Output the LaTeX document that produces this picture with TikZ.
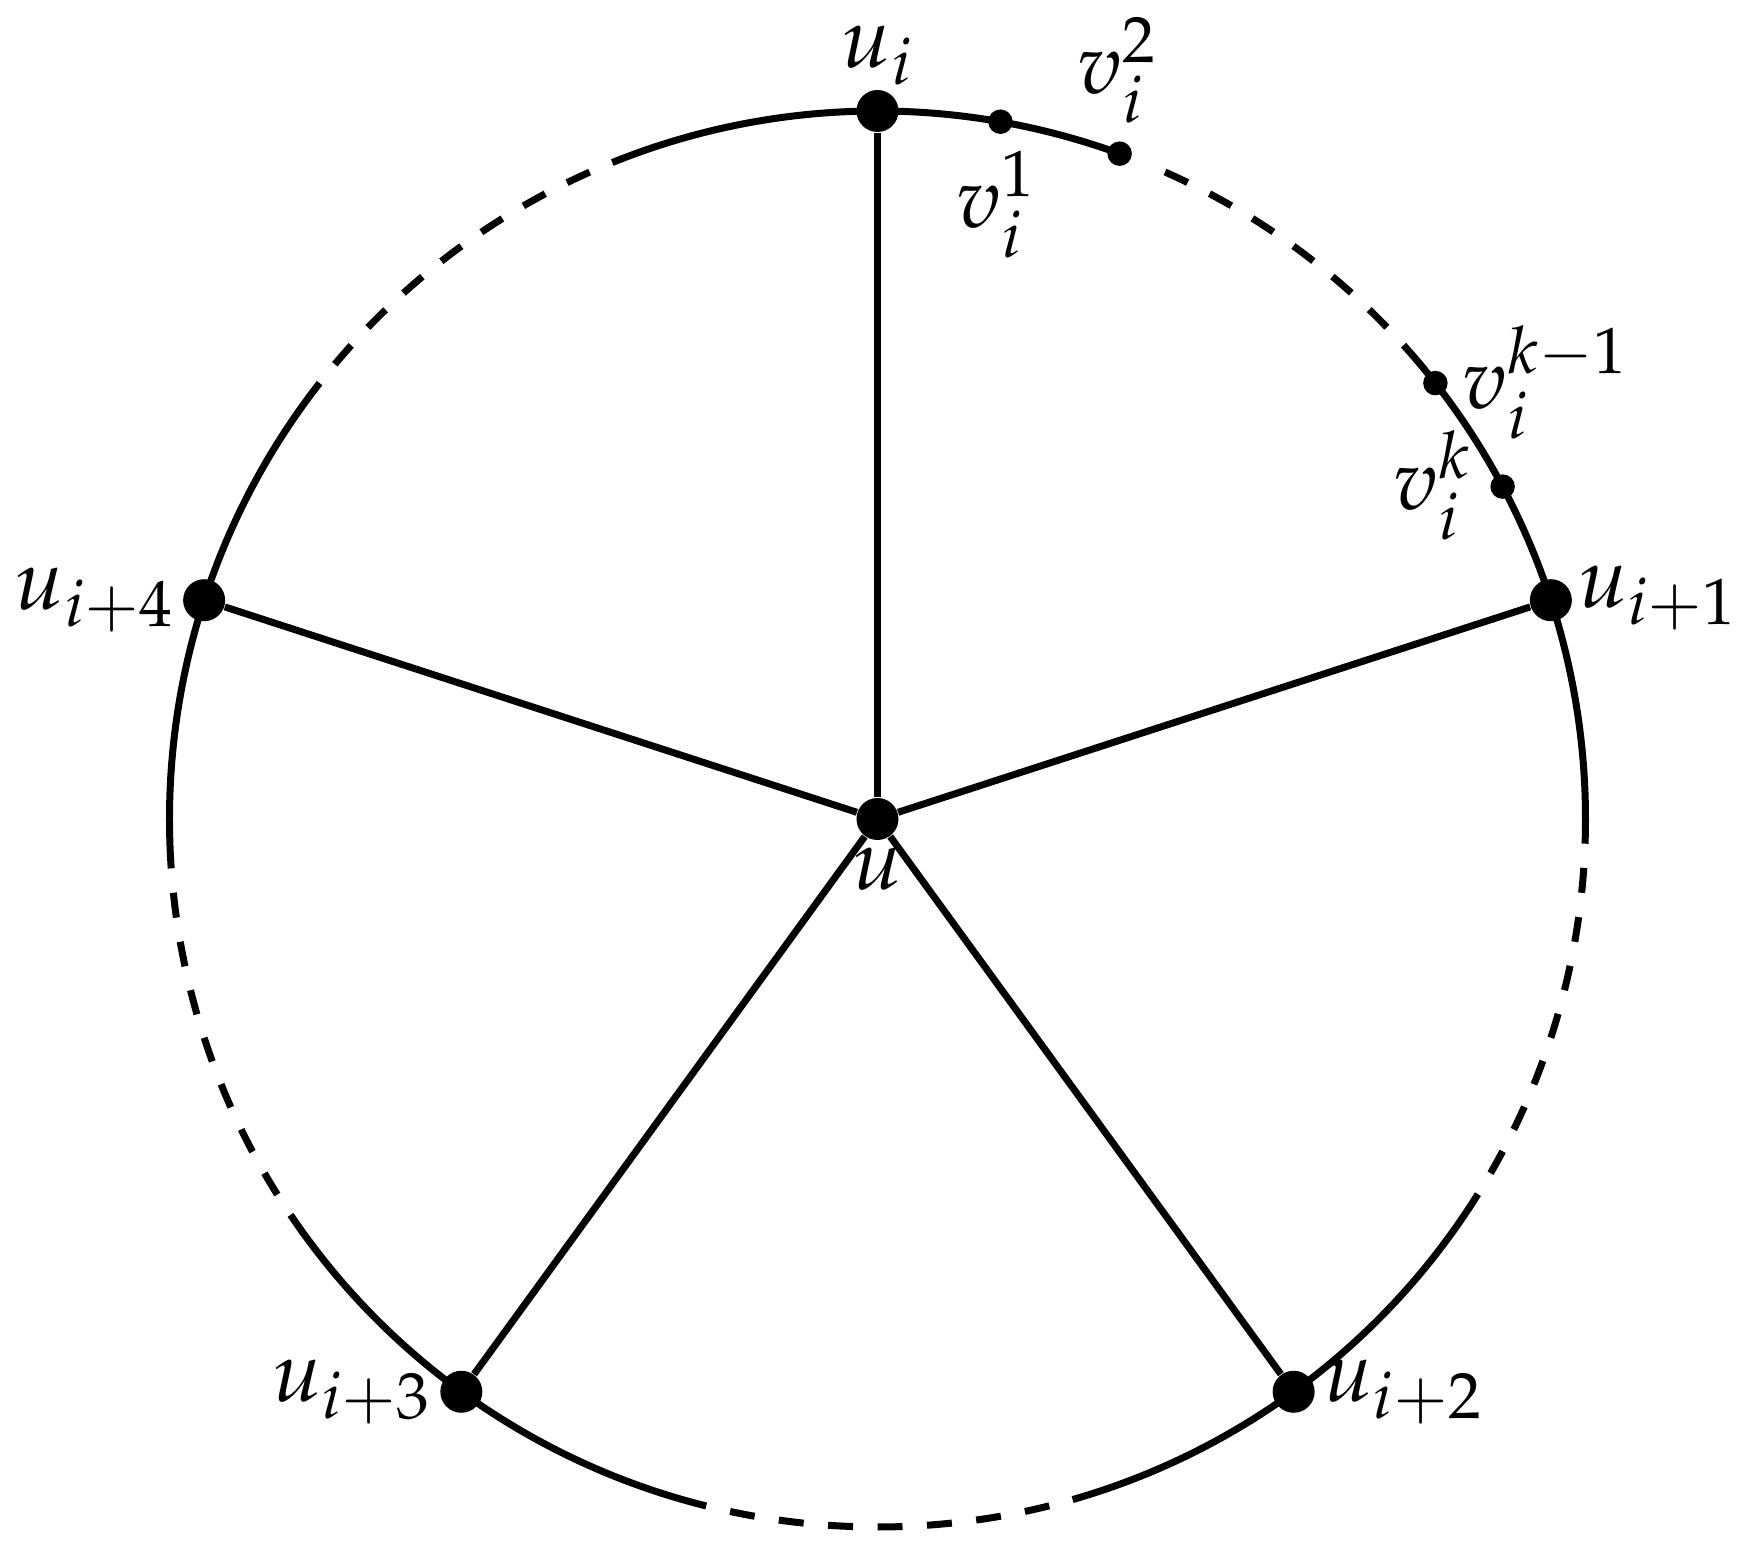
\documentclass[tikz,border=0pt]{standalone}
\usepackage{mathpazo}
\begin{document}
\begin{tikzpicture}[
  edge/.style={line width=0.07cm},
  dashedarc/.style={line width=0.07cm, dash pattern=on 0.25cm off 0.245cm, dash phase=0.25cm},
  bigdot/.style={circle, fill, inner sep=0pt, minimum size=0.42cm},
  smalldot/.style={circle, fill, inner sep=0pt, minimum size=0.245cm},
  lbl/.style={anchor=base, inner sep=0pt, font=\fontsize{24.5}{30}\selectfont}
]
\useasboundingbox (-8.775,-7.38) rectangle (8.715,8.19);
\def\R{7.08}
% circle arcs
\foreach \a in {70,142,214,286,358}
  \draw[edge] (\a:\R) arc[start angle=\a, end angle=\a+42, radius=\R];
\foreach \a in {112,184,256,328,38}
  \draw[dashedarc] (\a:\R) arc[start angle=\a, end angle=\a+30, radius=\R];
% vertices
\node[bigdot] (u) at (0,0) {};
\node[bigdot] (u0) at (90:\R) {};
\node[bigdot] (u1) at (18:\R) {};
\node[bigdot] (u2) at (-54:\R) {};
\node[bigdot] (u3) at (-126:\R) {};
\node[bigdot] (u4) at (162:\R) {};
\node[smalldot] (v1) at (80:\R) {};
\node[smalldot] (v2) at (70:\R) {};
\node[smalldot] (vk1) at (38:\R) {};
\node[smalldot] (vk) at (28:\R) {};
% spokes
\foreach \n in {u0,u1,u2,u3,u4}
  \draw[edge] (u) -- (\n);
% labels
\node[lbl] (lu) at (0,-0.71) {$u$};
\node[lbl] (lu0) at (0,7.51) {$u_i$};
\node[lbl] (lu1) at (7.80,2.11) {$u_{i+1}$};
\node[lbl] (lu2) at (5.255,-5.827) {$u_{i+2}$};
\node[lbl] (lu3) at (-5.258,-5.827) {$u_{i+3}$};
\node[lbl] (lu4) at (-7.833,2.09) {$u_{i+4}$};
\node[lbl] (lv1) at (1.19,5.91) {$v_i^1$};
\node[lbl] (lv2) at (2.40,7.257) {$v_i^2$};
\node[lbl] (lvk1) at (6.68,4.107) {$v_i^{k-1}$};
\node[lbl] (lvk) at (5.55,3.09) {$v_i^k$};
\end{tikzpicture}
\end{document}
